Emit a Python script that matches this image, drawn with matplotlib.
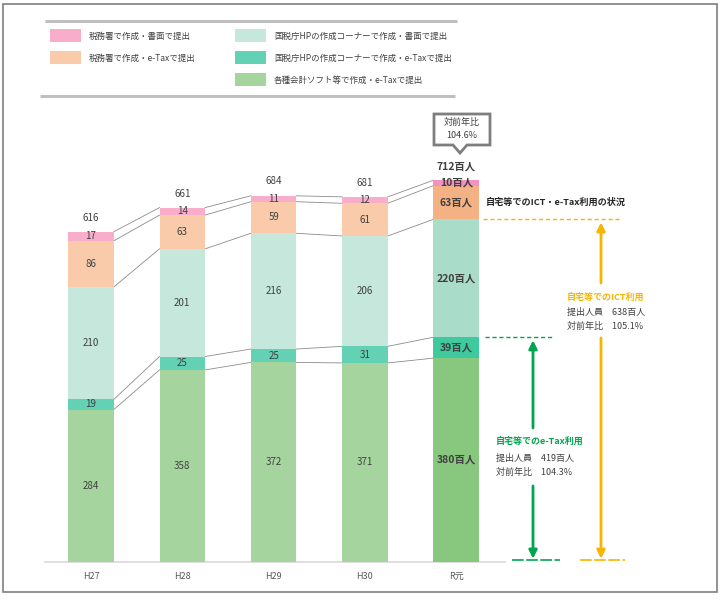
import matplotlib.pyplot as plt
from matplotlib.patches import Rectangle, Polygon
import numpy as np

plt.rcParams['font.family'] = ['Noto Sans CJK JP', 'DejaVu Sans']

# data (百人)
years = ['H27', 'H28', 'H29', 'H30', 'R元']
soft_etax = [284, 358, 372, 371, 380]      # 各種会計ソフト等で作成・e-Taxで提出
hp_etax = [19, 25, 25, 31, 39]             # 国税庁HP作成コーナー・e-Tax
hp_paper = [210, 201, 216, 206, 220]       # 国税庁HP作成コーナー・書面
office_etax = [86, 63, 59, 61, 63]         # 税務署で作成・e-Tax
office_paper = [17, 14, 11, 12, 10]        # 税務署で作成・書面
totals = [616, 661, 684, 681, 712]
total_yoy = '104.6%'
ict_people, ict_yoy = 638, '105.1%'
etax_people, etax_yoy = 419, '104.3%'

series = [soft_etax, hp_etax, hp_paper, office_etax, office_paper]
names = ['各種会計ソフト等で作成・e-Taxで提出',
         '国税庁HPの作成コーナーで作成・e-Taxで提出',
         '国税庁HPの作成コーナーで作成・書面で提出',
         '税務署で作成・e-Taxで提出',
         '税務署で作成・書面で提出']
colors = ['#A6D49F', '#63D2B4', '#C6E7DB', '#F9CBAA', '#F8ADCB']
colors_last = ['#88C77E', '#3FCA9E', '#A9DDCA', '#F4B183', '#F590BF']
txt_col = '#404040'
orange = '#F7B500'
green = '#00A550'

fig = plt.figure(figsize=(7.21, 6.0), dpi=100)
ax = fig.add_axes([0, 0, 1, 1])
ax.set_xlim(-0.997, 6.90)
ax.set_ylim(-71.5, 1048.5)
ax.axis('off')

x = np.arange(len(years))
w = 0.5
n = len(years)
bottom = np.zeros(n)
levels = []
for i, vals in enumerate(series):
    vals = np.array(vals)
    cols = [colors[i]] * (n - 1) + [colors_last[i]]
    ax.bar(x, vals, w, bottom=bottom, color=cols, zorder=2)
    for j, v in enumerate(vals):
        yc = bottom[j] + v / 2
        if j == n - 1:
            ax.text(x[j], yc, f'{v}百人', ha='center', va='center', fontsize=7.5,
                    fontweight='bold', color=txt_col, zorder=3)
        else:
            ax.text(x[j], yc, f'{v}', ha='center', va='center', fontsize=7,
                    color=txt_col, zorder=3)
    bottom = bottom + vals
    levels.append(bottom.copy())

# connector lines between bars
for lvl in levels:
    for j in range(n - 1):
        ax.plot([x[j] + w / 2, x[j + 1] - w / 2], [lvl[j], lvl[j + 1]],
                color='#8C8C8C', lw=0.6, zorder=1)

# totals
for j, t in enumerate(totals):
    if j == n - 1:
        ax.text(x[j], t + 26, f'{t}百人', ha='center', va='center', fontsize=7.5,
                fontweight='bold', color=txt_col)
    else:
        ax.text(x[j], t + 26, f'{t}', ha='center', va='center', fontsize=7, color=txt_col)

# baseline and ticks
ax.plot([-0.504, 4.53], [0, 0], color='#D9D9D9', lw=1.2, zorder=1)
for j, lab in enumerate(years):
    ax.text(x[j], -27, lab, ha='center', va='center', fontsize=6.5, color='#595959')

# overlay in pixel coordinates
ov = fig.add_axes([0, 0, 1, 1], facecolor='none')
ov.set_xlim(0, 721)
ov.set_ylim(600, 0)
ov.axis('off')


def ypx(v):
    return 600 - ax.transData.transform((0, v))[1]


# border
ov.add_patch(Rectangle((3, 4), 714, 588, fill=False, ec='#7F7F7F', lw=1.2))

# legend
ov.plot([45, 457], [21, 21], color='#BFBFBF', lw=2.2, solid_capstyle='butt')
ov.plot([40, 455], [96, 96], color='#BFBFBF', lw=2.2, solid_capstyle='butt')
leg_pos = [(235, 80), (235, 58), (235, 36), (50, 58), (50, 36)]
for k, (lx, ly) in enumerate(leg_pos):
    ov.add_patch(Rectangle((lx, ly - 7), 31, 13, color=colors[k], lw=0))
    ov.text(lx + 39, ly, names[k], ha='left', va='center', fontsize=6.1, color=txt_col)

# callout box
bx0, bx1, by0, by1, tipx = 434, 490, 114, 145, 460
ov.add_patch(Polygon([(bx0, by0), (bx1, by0), (bx1, by1), (tipx + 7, by1),
                      (tipx, by1 + 8), (tipx - 7, by1), (bx0, by1)],
                     closed=True, fc='white', ec='#7F7F7F', lw=2, joinstyle='miter'))
ov.text((bx0 + bx1) / 2, 122, '対前年比', ha='center', va='center', fontsize=6.5, color=txt_col)
ov.text((bx0 + bx1) / 2, 136, total_yoy, ha='center', va='center', fontsize=6.5, color=txt_col)

# right-hand annotation
y0 = ypx(0)
y_ict = ypx(levels[2][-1])
y_etax = ypx(levels[1][-1])

ov.text(486, 202, '自宅等でのICT・e-Tax利用の状況', ha='left', va='center',
        fontsize=6.6, fontweight='bold', color='#262626')

# ICT (orange)
ov.plot([483, 622], [y_ict, y_ict], color=orange, lw=1, ls=(0, (3, 2)))
ov.plot([580, 625], [y0 - 2, y0 - 2], color=orange, lw=1.2, ls=(0, (7, 1.5)))
ov.annotate('', xy=(601, y_ict + 3), xytext=(601, 283),
            arrowprops=dict(arrowstyle='-|>', color=orange, lw=2, mutation_scale=12,
                            shrinkA=0, shrinkB=0))
ov.annotate('', xy=(601, y0 - 3), xytext=(601, 338),
            arrowprops=dict(arrowstyle='-|>', color=orange, lw=2, mutation_scale=12,
                            shrinkA=0, shrinkB=0))
ov.text(567, 297, '自宅等でのICT利用', ha='left', va='center', fontsize=6.5,
        fontweight='bold', color=orange)
ov.text(567, 312, f'提出人員　{ict_people}百人', ha='left', va='center', fontsize=6.5, color=txt_col)
ov.text(567, 326, f'対前年比　{ict_yoy}', ha='left', va='center', fontsize=6.5, color=txt_col)

# e-Tax (green)
ov.plot([485, 553], [y_etax, y_etax], color=green, lw=1, ls=(0, (3, 2)))
ov.plot([512, 560], [y0 - 2, y0 - 2], color=green, lw=1.2, ls=(0, (7, 1.5)))
ov.annotate('', xy=(533, y_etax + 3), xytext=(533, 428),
            arrowprops=dict(arrowstyle='-|>', color=green, lw=2, mutation_scale=12,
                            shrinkA=0, shrinkB=0))
ov.annotate('', xy=(533, y0 - 3), xytext=(533, 486),
            arrowprops=dict(arrowstyle='-|>', color=green, lw=2, mutation_scale=12,
                            shrinkA=0, shrinkB=0))
ov.text(496, 441, '自宅等でのe-Tax利用', ha='left', va='center', fontsize=6.5,
        fontweight='bold', color=green)
ov.text(496, 458, f'提出人員　{etax_people}百人', ha='left', va='center', fontsize=6.5, color=txt_col)
ov.text(496, 472, f'対前年比　{etax_yoy}', ha='left', va='center', fontsize=6.5, color=txt_col)

fig.savefig('out.png', dpi=100)
